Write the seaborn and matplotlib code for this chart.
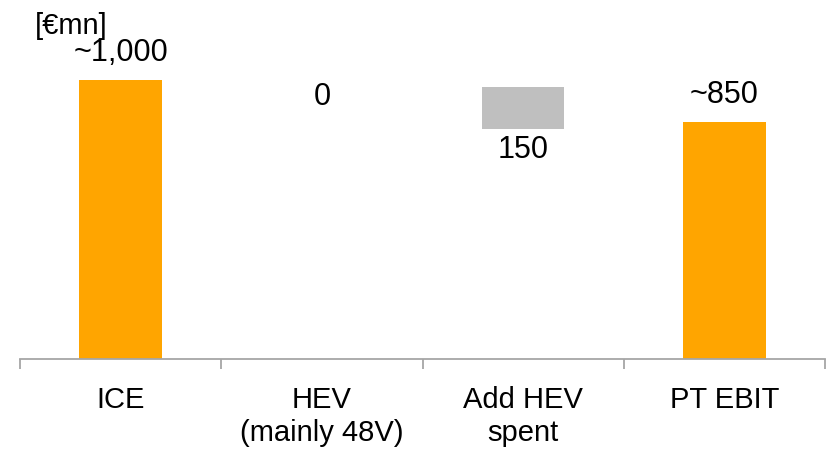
import matplotlib
matplotlib.use("Agg")
import matplotlib.pyplot as plt
import seaborn as sns
import pandas as pd

# Powertrain EBIT bridge, in EUR million
categories = ["ICE", "HEV\n(mainly 48V)", "Add HEV\nspent", "PT EBIT"]
totals_cats = ["ICE", "PT EBIT"]
totals_vals = [1000, 850]
spent_cat = "Add HEV\nspent"
spent_val = 150
spent_base = 825
value_labels = ["~1,000", "0", "150", "~850"]

ORANGE = "#FFA500"
GREY = "#BFBFBF"
AXIS_GREY = "#A6A6A6"

sns.set_theme(style="white")
plt.rcParams["font.family"] = ["Liberation Sans", "DejaVu Sans"]

fig = plt.figure(figsize=(8.26, 4.55), dpi=100)
ax = fig.add_axes([20 / 826, (455 - 358.5) / 455, (825 - 20) / 826, 358.5 / 455])

totals = pd.DataFrame({"cat": totals_cats, "val": totals_vals})
spent = pd.DataFrame({"cat": [spent_cat], "val": [spent_val]})

sns.barplot(data=totals, x="cat", y="val", order=categories, color=ORANGE,
            saturation=1, width=0.41, ax=ax, linewidth=0)
sns.barplot(data=spent, x="cat", y="val", order=categories, color=GREY,
            saturation=1, width=0.41, ax=ax, linewidth=0, bottom=spent_base)

ax.set_xlim(-0.5, 3.5)
ax.set_ylim(0, 1289)
ax.set_xlabel("")
ax.set_ylabel("")
ax.set_yticks([])

# category labels centred, tick marks on category boundaries
ax.set_xticks(range(len(categories)))
ax.set_xticklabels(categories, fontsize=21, color="black", linespacing=1.22)
ax.set_xticks([i - 0.5 for i in range(len(categories) + 1)], minor=True)
ax.tick_params(axis="x", which="major", length=0, pad=20)
ax.tick_params(axis="x", which="minor", length=7.2, width=1.3,
               color=AXIS_GREY, bottom=True, direction="out")

for side in ["top", "right", "left"]:
    ax.spines[side].set_visible(False)
ax.spines["bottom"].set_color(AXIS_GREY)
ax.spines["bottom"].set_linewidth(1.3)

# value labels
lab_kw = dict(ha="center", va="center", fontsize=22, color="black",
              textcoords="offset points")
ax.annotate(value_labels[0], xy=(0, totals_vals[0]), xytext=(0, 20), **lab_kw)
ax.annotate(value_labels[1], xy=(1, totals_vals[0]), xytext=(0, -12), **lab_kw)
ax.annotate(value_labels[2], xy=(2, spent_base), xytext=(0, -15), **lab_kw)
ax.annotate(value_labels[3], xy=(3, totals_vals[1]), xytext=(0, 19.5), **lab_kw)

fig.text(71 / 826, 1 - 26 / 455, "[€mn]", ha="center", va="center",
         fontsize=21, color="black")

fig.savefig("out.png", dpi=100)
